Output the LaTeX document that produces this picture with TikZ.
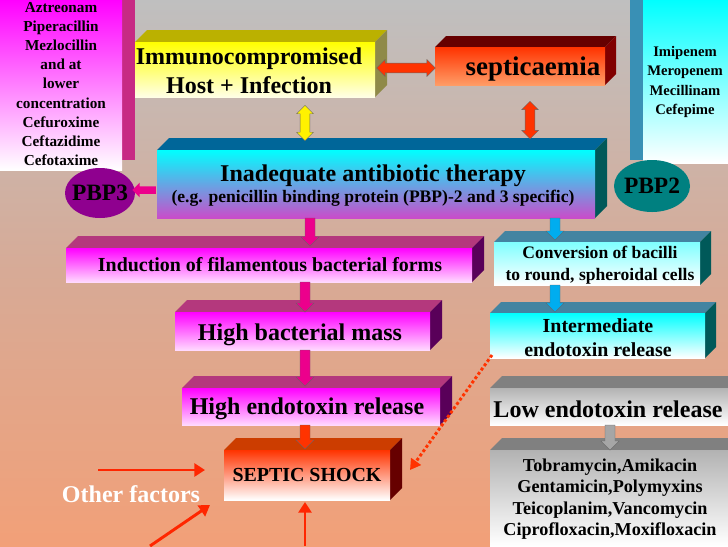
\documentclass[tikz,border=0pt]{standalone}
\usepackage{fontspec}
\setmainfont{Liberation Serif}
\usetikzlibrary{shapes.arrows,shapes.geometric,arrows.meta}
\newcommand{\slab}[9]{%
  \fill[#7] (#1,#2) -- ({#1+#5},{#2-#5}) -- ({#3+#5},{#2-#5}) -- (#3,#2) -- cycle;
  \fill[#6] (#3,#2) -- ({#3+#5},{#2-#5}) -- ({#3+#5},{#4-#5}) -- (#3,#4) -- cycle;
  \shade[top color=#8,bottom color=#9] (#1,#2) rectangle (#3,#4);}
% down block arrow: x, top y, bottom y, colour
\newcommand{\darr}[4]{%
  \filldraw[fill=#4, draw=black!60, line width=0.3pt] ({#1-5},#2) -- ({#1+5},#2) -- ({#1+5},{#3-9})
    -- ({#1+9},{#3-9}) -- (#1,#3) -- ({#1-9},{#3-9}) -- ({#1-5},{#3-9}) -- cycle;}
\newcommand{\fs}[2]{\bfseries\fontsize{#1}{#2}\selectfont}
\tikzset{
  lbl/.style={font=\bfseries, align=center, inner sep=0pt},
  dbl/.style={double arrow, double arrow head extend=3pt,
    minimum height=#1, inner xsep=0pt, inner ysep=4pt, draw=black!60, line width=0.3pt},
  red arrow/.style={-{Triangle[length=9pt,width=11pt]}, line width=2.5pt, color=orange!30!red}
}
\begin{document}
\begin{tikzpicture}[x=0.03cm,y=-0.03cm]
\useasboundingbox (0,0) rectangle (728,546);
\shade[top color=black!25, bottom color={rgb,255:red,242;green,160;blue,120}, middle color={rgb,255:red,215;green,170;blue,150}] (0,0) rectangle (728,546);
% side boxes
\fill[magenta!80!black] (122,0) rectangle (135,160);
\shade[top color=magenta, bottom color=white] (0,0) rectangle (122,170);
\node[lbl, font=\fs{13}{16.4}] (drugs3) at (61,84) {Aztreonam\\Piperacillin\\Mezlocillin\\and at\\lower\\concentration\\Cefuroxime\\Ceftazidime\\Cefotaxime};
\fill[cyan!70!black] (630,0) rectangle (643,160);
\shade[top color=cyan, bottom color=white] (643,0) rectangle (728,163);
\node[lbl, font=\fs{12.5}{16.4}] (drugs2) at (685,82) {Imipenem\\Meropenem\\Mecillinam\\Cefepime};
\fill[violet!60!magenta!80!black] (100,193) ellipse (35 and 25);
\node[lbl, font=\fs{20}{22}] (pbp3) at (100,193) {PBP3};
\fill[teal] (652,186) ellipse (38 and 26);
\node[lbl, font=\fs{20}{22}] (pbp2) at (652,186) {PBP2};
% slabs
\slab{135}{42}{375}{97}{12}{yellow!50!black}{yellow!40!olive}{yellow}{yellow!10}
\node[lbl, font=\fs{20.5}{24.6}] (host) at (249,71) {Immunocompromised\\Host + Infection};
\slab{435}{47}{605}{85}{11}{red!50!black}{red!40!black}{orange!40!red}{orange!70!red!60!white}
\node[lbl, font=\fs{23}{26}] (sepsis) at (533,69) {septicaemia};
\slab{157}{150}{595}{218}{12}{teal!70!black}{teal!80!blue}{cyan}{violet!60!magenta!70!white}
\node[lbl, font=\fs{20.5}{24}] (therapy) at (373,176) {Inadequate antibiotic therapy};
\node[lbl, font=\fs{15}{18}] (pbp) at (373,198) {(e.g. penicillin binding protein (PBP)-2 and 3 specific)};
\slab{66}{248}{472}{282}{12}{violet!70!black}{magenta!70!black}{magenta}{magenta!15}
\node[lbl, font=\fs{17}{20}] (filament) at (270,265) {Induction of filamentous bacterial forms};
\slab{494}{242}{700}{285}{11}{teal!70!black}{cyan!60!black}{cyan!50}{white}
\node[lbl, font=\fs{15}{18.7}] (round) at (600,265) {Conversion of bacilli\\to round, spheroidal cells};
\slab{175}{312}{430}{350}{12}{violet!70!black}{magenta!70!black}{magenta}{magenta!15}
\node[lbl, font=\fs{20.5}{24}] (mass) at (300,335) {High bacterial mass};
\slab{490}{313}{705}{358}{11}{teal!70!black}{cyan!60!black}{cyan}{white}
\node[lbl, font=\fs{17}{20.4}] (inter) at (598,338) {Intermediate\\endotoxin release};
\slab{182}{388}{440}{425}{12}{violet!70!black}{magenta!70!black}{magenta}{magenta!15}
\node[lbl, font=\fs{20.5}{24}] (high) at (307,409) {High endotoxin release};
\slab{490}{388}{728}{425}{12}{black!70}{black!50}{black!30}{white}
\node[lbl, font=\fs{20.5}{24}] (low) at (608,409) {Low endotoxin release};
\slab{224}{450}{390}{500}{12}{red!40!black}{orange!60!red!80!black}{orange!40!red}{white}
\node[lbl, font=\fs{17}{20}] (shock) at (307,475) {SEPTIC SHOCK};
\slab{490}{450}{728}{546}{12}{black!70}{black!50}{black!30}{white}
\node[lbl, font=\fs{15.5}{18.4}] (others) at (610,499) {Tobramycin,Amikacin\\Gentamicin,Polymyxins\\Teicoplanim,Vancomycin\\Ciprofloxacin,Moxifloxacin};
% block arrows
\node[dbl=30pt, fill=yellow, rotate=90] (a1) at (305,123) {};
\node[dbl=50pt, fill=orange!40!red] (a2) at (406,68) {};
\node[dbl=32pt, fill=orange!40!red, rotate=90] (a3) at (530,120) {};
\node[single arrow, single arrow head extend=3pt, shape border rotate=180, minimum height=20pt, inner xsep=0pt, inner ysep=3pt, fill=magenta] (a4) at (146,190) {};
\darr{310}{218}{246}{magenta}
\darr{555}{218}{240}{cyan}
\darr{305}{282}{312}{magenta}
\darr{555}{285}{312}{cyan}
\darr{305}{350}{386}{magenta}
\darr{305}{425}{449}{orange!40!red}
\darr{610}{425}{450}{black!35}
% other factors
\coordinate (d0) at (492,355);
\coordinate (d1) at (410,470);
\draw[line width=2.5pt, dotted, color=orange!40!red, -{Triangle[length=9pt,width=10pt]}] (d0) -- (d1);
\node[lbl, text=white, font=\fs{20.5}{24}] (factors) at (131,494) {Other factors};
\coordinate (f0) at (98,470);
\coordinate (f1) at (150,546);
\coordinate (f2) at (305,546);
\draw[red arrow] (f0) -- (205,470);
\draw[red arrow] (f1) -- (210,505);
\draw[red arrow] (f2) -- (305,502);
\end{tikzpicture}
\end{document}
